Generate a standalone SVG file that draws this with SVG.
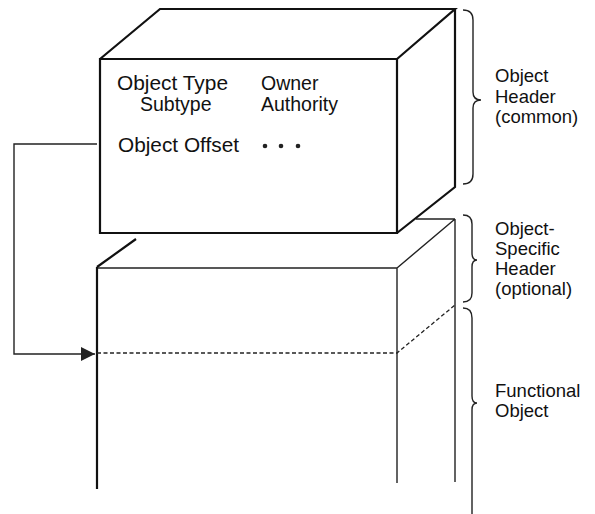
<svg xmlns="http://www.w3.org/2000/svg" width="595" height="514" viewBox="0 0 595 514">
<defs>
<style>
.bold{fill:none;stroke:#111;stroke-width:2.2;stroke-linejoin:miter}
.thin{fill:none;stroke:#222;stroke-width:1.4}
.dash{fill:none;stroke:#222;stroke-width:1.3;stroke-dasharray:4 2.5}
.brace{fill:none;stroke:#222;stroke-width:1.4}
.t{font-family:"Liberation Sans",Arial,sans-serif;font-size:19.5px;fill:#111}
.r{font-family:"Liberation Sans",Arial,sans-serif;font-size:18.5px;fill:#111}
</style>
<marker id="arr" markerWidth="16" markerHeight="16" refX="14" refY="7" orient="auto" markerUnits="userSpaceOnUse">
<path d="M0,0 L14,7 L0,14 Z" fill="#222"/>
</marker>
</defs>
<rect width="595" height="514" fill="#fff"/>
<g id="lower-box">
<path class="thin" d="M97,268 L397,268 M397,268 L455,219 M416,219 L455,219 M455,219 L455,482 M397,268 L397,483"/>
<path class="bold" d="M97,267 L97,489 M97,267 L136,239"/>
<path class="dash" d="M97,353 L397,353 L455,305"/>
</g>
<g id="header-box">
<path class="bold" d="M100,59 L397,59 L397,233 L100,233 Z M100,59 L160,9 L455,9 L397,59 M455,9 L455,187 L397,233"/>
<text class="t" x="117" y="90" textLength="111" lengthAdjust="spacingAndGlyphs">Object Type</text>
<text class="t" x="140" y="111">Subtype</text>
<text class="t" x="261" y="90">Owner</text>
<text class="t" x="261" y="111">Authority</text>
<text class="t" x="118" y="152" textLength="121" lengthAdjust="spacingAndGlyphs">Object Offset</text>
<circle cx="265" cy="146" r="2.3" fill="#222"/>
<circle cx="281" cy="146" r="2.3" fill="#222"/>
<circle cx="298" cy="146" r="2.3" fill="#222"/>
</g>
<g id="connectors">
<path class="thin" d="M97,144 L14,144 L14,354 L95,354" marker-end="url(#arr)"/>
</g>
<g id="brace-header">
<path class="brace" d="M463,10 Q473,10 473,20 L473,92 Q473,100 481,100 Q473,100 473,108 L473,174 Q473,184 463,184"/>
<text class="r" x="495" y="82">Object</text>
<text class="r" x="495" y="103">Header</text>
<text class="r" x="495" y="123">(common)</text>
</g>
<g id="brace-specific">
<path class="brace" d="M463,215 Q472,215 472,224 L472,253 Q472,260 477,260 Q472,260 472,267 L472,293 Q472,302 463,302"/>
<text class="r" x="495" y="235">Object-</text>
<text class="r" x="495" y="255">Specific</text>
<text class="r" x="495" y="275">Header</text>
<text class="r" x="495" y="295">(optional)</text>
</g>
<g id="brace-functional">
<path class="brace" d="M463,308 Q472,308 472,318 L472,396 Q472,403 477,403 Q472,403 472,410 L472,514"/>
<text class="r" x="495" y="397">Functional</text>
<text class="r" x="495" y="417">Object</text>
</g>
</svg>
